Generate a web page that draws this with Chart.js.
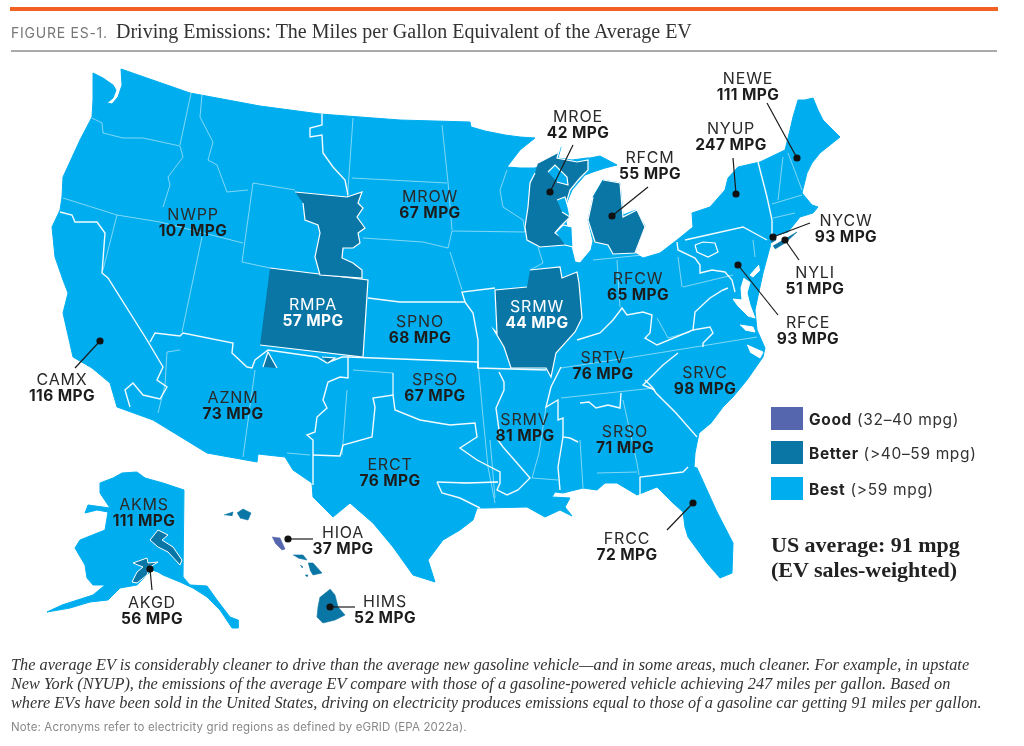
<!DOCTYPE html>
<html>
<head>
<meta charset="utf-8">
<title>Driving Emissions</title>
<script src="https://cdn.jsdelivr.net/npm/chart.js@4"></script>
<style>
    body { margin: 0; background: #fff; width: 1024px; height: 746px; overflow: hidden; position: relative; }
    canvas { position: absolute; left: 0; top: 0; }
    .abs { position: absolute; white-space: nowrap; }
    #topRule { left: 10px; top: 7px; width: 988px; height: 4px; background: #f26122; }
    #subRule { left: 11px; top: 50px; width: 986px; height: 2px; background: #a9a9a9; }
    #figNo { left: 11px; top: 24px; font: 14px Inter; color: #777; letter-spacing: 0.75px; }
    #title { left: 116px; top: 20px; font: 20px "Liberation Serif"; color: #333; letter-spacing: 0; }
    .swatch { left: 771px; width: 32px; height: 23px; }
    .legendText { left: 809px; font: 15.5px Inter; color: #333; letter-spacing: 0.65px; }
    .legendText b { color: #222; }
    .average { left: 771px; font: bold 22px "Liberation Serif"; color: #222; }
    .caption { left: 11px; font: italic 16.3px "Liberation Serif"; color: #333; }
    #note { left: 11px; top: 720px; font: 11.5px Inter; color: #888; letter-spacing: 0.15px; }
</style>
</head>
<body>
<canvas id="mapChart" width="1024" height="746"></canvas>
<div class="abs" id="topRule"></div>
<div class="abs" id="subRule"></div>
<div class="abs" id="figNo">FIGURE ES-1.</div>
<div class="abs" id="title">Driving Emissions: The Miles per Gallon Equivalent of the Average EV</div>
<div class="abs swatch" style="top:407px;background:#5566ae"></div>
<div class="abs legendText" style="top:410px"><b>Good</b> (32–40 mpg)</div>
<div class="abs swatch" style="top:441px;background:#0a76a6"></div>
<div class="abs legendText" style="top:444px"><b>Better</b> (&gt;40–59 mpg)</div>
<div class="abs swatch" style="top:477px;background:#00aeef"></div>
<div class="abs legendText" style="top:480px"><b>Best</b> (&gt;59 mpg)</div>
<div class="abs average" style="top:532px">US average: 91 mpg</div>
<div class="abs average" style="top:557px">(EV sales-weighted)</div>
<div class="abs caption" style="top:655px">The average EV is considerably cleaner to drive than the average new gasoline vehicle—and in some areas, much cleaner. For example, in upstate</div>
<div class="abs caption" style="top:674px">New York (NYUP), the emissions of the average EV compare with those of a gasoline-powered vehicle achieving 247 miles per gallon. Based on</div>
<div class="abs caption" style="top:693px">where EVs have been sold in the United States, driving on electricity produces emissions equal to those of a gasoline car getting 91 miles per gallon.</div>
<div class="abs" id="note">Note: Acronyms refer to electricity grid regions as defined by eGRID (EPA 2022a).</div>

<script>
// Region labels
const regionNames = ["NEWE", "NYUP", "MROE", "RFCM", "MROW", "NWPP", "RMPA", "SPNO", "NYCW", "NYLI", "RFCW", "SRMW", "RFCE", "SRTV", "SRVC", "CAMX", "AZNM", "SPSO", "SRMV", "SRSO", "ERCT", "AKMS", "HIOA", "FRCC", "AKGD", "HIMS"];
const regionMpg = [111, 247, 42, 55, 67, 107, 57, 68, 93, 51, 65, 44, 93, 76, 98, 116, 73, 67, 81, 71, 76, 111, 37, 72, 56, 52];
const labelX = [748, 731, 578, 650, 430, 193, 313, 420, 846, 815, 638, 537, 808, 603, 705, 62, 233, 435, 525, 625, 390, 144, 343, 627, 152, 385];
const labelY = [79, 129, 117, 158, 197, 215, 305, 322, 221, 273, 279, 307, 323, 358, 373, 380, 398, 380, 420, 432, 465, 505, 533, 539, 603, 602];
const whiteLabels = ["RMPA", "SRMW"];

// Outlines, in map units
const usOutline = [[93,73],[103,78],[113,85],[116,90],[113,98],[107,103],[112,104],[118,97],[122,85],[121,69],[190,93],[260,106],[320,114],[400,120],[470,122],[471,127],[485,131],[505,135],[520,137],[535,138],[520,150],[507,167],[520,168],[535,168],[545,163],[557,155],[561,147],[558,158],[572,160],[587,158],[590,158],[600,156],[617,165],[605,168],[593,172],[585,175],[572,190],[565,207],[570,215],[566,222],[570,240],[572,250],[575,262],[580,263],[591,250],[593,241],[588,220],[593,197],[603,180],[620,183],[623,215],[636,210],[645,226],[635,253],[643,258],[660,253],[677,240],[693,227],[692,213],[710,207],[725,190],[728,178],[738,167],[760,162],[785,150],[790,130],[793,117],[798,100],[805,100],[813,98],[818,110],[823,120],[840,137],[830,145],[820,153],[812,163],[807,173],[802,193],[812,205],[818,207],[813,213],[800,217],[788,232],[770,237],[770,247],[763,273],[755,310],[757,330],[765,348],[763,357],[747,380],[733,397],[723,407],[711,423],[699,433],[695,453],[694,467],[697,468],[717,512],[733,543],[732,573],[720,578],[707,563],[688,537],[685,527],[683,512],[673,503],[657,487],[637,495],[617,483],[605,483],[597,490],[583,488],[563,493],[555,492],[552,497],[570,498],[565,507],[572,516],[560,510],[545,517],[527,507],[485,508],[477,508],[473,520],[460,530],[443,540],[428,560],[435,582],[413,575],[393,547],[373,523],[350,503],[333,517],[313,497],[312,483],[293,470],[285,457],[258,454],[257,462],[207,453],[153,420],[117,407],[110,383],[92,368],[73,357],[63,313],[68,293],[63,280],[55,257],[52,227],[60,210],[62,197],[63,177],[80,140],[92,117],[93,100],[93,73]];
const alaskaOutline = [[100,483],[113,478],[122,473],[137,472],[145,478],[163,483],[178,488],[184,490],[183,577],[190,585],[207,586],[217,600],[230,617],[238,620],[238,628],[232,628],[220,610],[207,597],[193,588],[180,582],[163,575],[158,572],[152,570],[137,585],[120,588],[108,600],[90,602],[70,608],[47,612],[62,605],[93,595],[105,585],[93,585],[87,578],[85,565],[75,548],[80,540],[105,530],[108,512],[97,510],[85,513],[88,505],[110,508],[100,493],[100,483]];
const chesapeakeBay = [[744,278],[741,288],[742,300],[733,299],[738,306],[748,316],[755,318],[750,305],[747,293],[750,282]];
const delawareBay = [[759,265],[750,275],[753,277],[760,270]];
const pamlicoSound = [[740,325],[753,327],[755,332],[745,330]];
const albemarleSound = [[747,345],[763,352],[760,358],[750,352]];

// Better (>40-59 mpg) regions
const mroeShape = [[538,163],[557,153],[560,148],[557,158],[577,162],[588,160],[588,170],[580,178],[570,190],[565,207],[570,217],[560,227],[555,233],[565,240],[565,245],[540,247],[527,240],[525,227],[528,207],[530,183],[535,173]];
const rfcmShape = [[603,180],[620,183],[623,217],[637,210],[645,227],[635,253],[613,254],[608,245],[595,242],[588,220],[593,197]];
const srmwShape = [[530,270],[560,267],[562,278],[577,272],[579,283],[582,318],[575,332],[556,353],[551,377],[546,368],[511,368],[504,347],[494,330],[497,333],[495,290],[527,287]];
const rmpaColorado = [[270,268],[368,280],[363,357],[260,345]];
const rmpaNorth = [[295,192],[347,197],[362,192],[358,203],[363,208],[357,217],[365,228],[358,233],[360,243],[353,248],[343,248],[342,258],[353,263],[362,270],[362,278],[320,275],[315,257],[320,233],[318,225],[305,220],[303,203]];
const rmpaSouth = [[322,357],[335,358],[328,363]];
const rmpaFourCorners = [[263,367],[268,352],[277,368]];
const nycwShape = [[770,238],[775,234],[776,240],[771,243]];
const nyliShape = [[773,246],[797,232],[785,243],[775,249]];
const akmsShape = [[150,540],[158,530],[168,535],[162,540],[173,547],[182,560],[180,565],[168,552],[158,547],[150,540]];
const akgdShape = [[133,563],[147,558],[148,563],[158,562],[150,567],[147,575],[137,583],[132,582],[137,572],[143,567],[133,563]];
const hawaiiKauai = [[224,515],[233,512],[232,516]];
const hawaiiOahuWest = [[237,513],[243,509],[251,513],[248,520],[240,518]];
const hawaiiMolokai = [[293,555],[303,555],[307,560],[298,558]];
const hawaiiLanai = [[300,565],[303,567],[302,568]];
const hawaiiMaui = [[308,563],[313,563],[322,573],[313,575],[310,570]];
const hawaiiKahoolawe = [[305,575],[308,575],[307,577]];
const himsShape = [[330,589],[335,595],[338,607],[345,615],[335,620],[323,623],[317,617],[318,607],[320,597]];

// Good (32-40 mpg) region
const hioaShape = [[272,537],[280,538],[285,549],[282,550],[275,543]];

// Blue cut-outs inside MROE
const mroeHoleNorth = [[548,172],[555,165],[567,177],[568,185],[557,182]];
const mroeHoleBay = [[557,200],[565,197],[568,207],[570,217],[562,212]];
const mroeHoleSouth = [[556,232],[563,225],[572,227],[573,247],[565,245]];
const rfceHole = [[695,245],[703,242],[715,243],[718,252],[708,257],[697,252],[695,245]];

// Grid region borders, drawn thick
const gridBorders = [
    [[60,212],[72,215],[75,222],[97,222],[105,233],[102,273],[108,278],[147,340],[163,367],[157,380],[167,387],[160,399],[143,395],[133,383],[125,390],[130,407]],
    [[150,342],[155,333],[180,336],[183,333],[233,343],[232,353],[247,367],[252,368],[255,360],[268,350],[317,357],[327,363],[342,357],[348,357],[348,378],[340,377],[328,382],[323,400],[327,408],[317,417],[315,432],[307,435],[313,440],[313,485]],
    [[313,455],[340,456],[343,445],[372,437],[375,407],[373,398],[393,395],[395,410],[420,420],[450,425],[475,423],[477,437],[460,448],[477,460],[500,472],[500,483],[497,490],[507,495],[518,490],[530,478],[517,463],[503,447],[498,440],[499,430],[496,408],[504,390],[504,382],[499,372]],
    [[437,482],[442,493],[460,498],[480,508]],
    [[437,482],[467,483],[498,482]],
    [[322,114],[322,125],[310,128],[310,137],[322,135],[323,153],[333,167],[345,180],[348,195]],
    [[368,298],[400,302],[465,302],[462,292],[495,288]],
    [[348,357],[478,362],[478,368],[546,370]],
    [[465,302],[473,313],[478,340],[478,368]],
    [[561,367],[551,387],[546,407],[558,400],[558,420],[563,418],[563,437],[570,438],[578,442]],
    [[563,437],[558,467],[560,490]],
    [[580,403],[589,402],[596,408],[608,405],[620,408],[621,393]],
    [[645,380],[652,387],[656,393],[676,413],[697,437]],
    [[678,353],[663,365],[643,385],[655,390]],
    [[640,495],[640,477],[683,472],[688,467]],
    [[685,240],[743,227],[767,240]],
    [[677,242],[678,250],[695,258],[700,265],[700,273],[712,270],[725,272],[732,280],[735,292]],
    [[577,340],[600,333],[613,320],[622,308],[627,315],[643,312],[652,315],[650,333],[645,338],[657,345],[693,330],[695,312],[710,298],[723,290],[728,288]],
    [[693,330],[710,327],[713,333],[703,343],[703,347]],
    [[758,162],[767,197],[772,220],[772,235]]
];

// State lines, drawn thin
const stateLines = [
    [[191,93],[180,145]],
    [[92,118],[102,123],[103,133],[123,138],[143,138],[180,146],[183,157],[168,177],[170,185],[163,207]],
    [[63,198],[117,215],[160,222],[243,243]],
    [[117,215],[103,270]],
    [[202,237],[182,332]],
    [[253,183],[295,190]],
    [[253,183],[242,262],[270,268]],
    [[202,95],[200,117],[213,142],[208,160],[217,165],[227,192],[248,190]],
    [[353,118],[348,190],[343,248],[340,275]],
    [[352,178],[447,183]],
    [[442,125],[448,182],[452,230]],
    [[363,238],[423,242],[448,248],[452,231],[525,232]],
    [[450,252],[462,290]],
    [[507,170],[500,190],[503,207],[523,220],[525,232]],
    [[538,247],[543,263],[530,270]],
    [[593,260],[643,255]],
    [[617,260],[620,307]],
    [[678,257],[682,287]],
    [[683,287],[733,275]],
    [[783,157],[778,200]],
    [[788,153],[802,190]],
    [[772,204],[802,195]],
    [[773,218],[795,213]],
    [[753,240],[755,257]],
    [[561,368],[627,358],[757,337]],
    [[657,318],[668,338],[690,332]],
    [[561,398],[654,388]],
    [[623,400],[637,463],[639,475]],
    [[597,473],[637,472]],
    [[580,440],[583,488]],
    [[546,407],[539,453],[532,478],[558,480]],
    [[490,440],[492,462],[495,498]],
    [[460,483],[498,482]],
    [[255,370],[243,457]],
    [[287,453],[310,455]],
    [[353,370],[393,373],[393,395]],
    [[347,390],[342,455]],
    [[478,362],[483,417],[488,467],[495,503]],
    [[167,352],[180,350]],
    [[167,352],[165,385],[158,413]]
];

// Leader lines, dot end first
const leaderLines = [
    [[100,341],[75,368]],
    [[550,192],[573,145]],
    [[612,216],[648,187]],
    [[797,158],[767,103]],
    [[736,194],[733,158]],
    [[773,237],[810,223]],
    [[785,240],[799,260]],
    [[738,265],[778,315]],
    [[693,503],[667,530]],
    [[150,569],[152,590]],
    [[288,539],[313,539]],
    [[330,607],[355,607]]
];

const BLUE = "#00aeef";
const DARK = "#0a76a6";
const PURPLE = "#5566ae";
const WHITE = "#ffffff";

function toPoints(line) {
    return line.map(p => ({ x: p[0], y: p[1] }));
}

function shape(label, line, color, border, width) {
    return {
        label: label,
        data: toPoints(line),
        showLine: true,
        fill: "shape",
        tension: 0,
        pointRadius: 0,
        backgroundColor: color,
        borderColor: border || color,
        borderWidth: width === undefined ? 1 : width
    };
}

function path(label, line, color, width) {
    return {
        label: label,
        data: toPoints(line),
        showLine: true,
        fill: false,
        tension: 0,
        pointRadius: 0,
        borderColor: color,
        borderWidth: width
    };
}

const datasets = [
    shape("US", usOutline, BLUE),
    shape("Alaska", alaskaOutline, BLUE),
    shape("Chesapeake", chesapeakeBay, WHITE),
    shape("Delaware Bay", delawareBay, WHITE),
    shape("Pamlico", pamlicoSound, WHITE),
    shape("Albemarle", albemarleSound, WHITE)
];
stateLines.forEach((l, i) => datasets.push(path("state " + i, l, "rgba(255,255,255,0.5)", 1)));
gridBorders.forEach((l, i) => datasets.push(path("border " + i, l, "rgba(255,255,255,0.95)", 1.4)));
[
    ["MROE", mroeShape], ["RFCM", rfcmShape], ["SRMW", srmwShape], ["RMPA", rmpaColorado],
    ["RMPA north", rmpaNorth], ["RMPA south", rmpaSouth], ["RMPA corners", rmpaFourCorners]
].forEach(r => datasets.push(shape(r[0], r[1], DARK, WHITE, 1.2)));
[
    ["NYCW", nycwShape], ["NYLI", nyliShape],
    ["Kauai", hawaiiKauai], ["Oahu west", hawaiiOahuWest], ["Molokai", hawaiiMolokai], ["Lanai", hawaiiLanai],
    ["Maui", hawaiiMaui], ["Kahoolawe", hawaiiKahoolawe], ["HIMS", himsShape]
].forEach(r => datasets.push(shape(r[0], r[1], DARK, DARK, 0.6)));
datasets.push(shape("AKMS dark", akmsShape, DARK, WHITE, 1));
datasets.push(shape("AKGD", akgdShape, DARK, WHITE, 1));
datasets.push(shape("HIOA", hioaShape, PURPLE, PURPLE, 0.6));
[mroeHoleNorth, mroeHoleBay, mroeHoleSouth].forEach((l, i) => datasets.push(shape("hole " + i, l, BLUE, WHITE, 1.2)));
datasets.push(path("RFCE hole", rfceHole, WHITE, 1.2));
leaderLines.forEach((l, i) => {
    const d = path("leader " + i, l, "#1a1a1a", 1.2);
    d.pointRadius = [3, 0];
    d.pointBackgroundColor = "#111";
    d.pointBorderColor = "#111";
    datasets.push(d);
});
// later entries go on top
datasets.forEach((d, i) => { d.order = datasets.length - i; });

// Writes the region name and MPG value under each other
const regionLabels = {
    id: "regionLabels",
    afterDatasetsDraw(chart) {
        const ctx = chart.ctx;
        const xs = chart.scales.x;
        const ys = chart.scales.y;
        ctx.save();
        ctx.textAlign = "center";
        ctx.textBaseline = "middle";
        regionNames.forEach((name, i) => {
            const x = xs.getPixelForValue(labelX[i]);
            const y = ys.getPixelForValue(labelY[i]);
            ctx.fillStyle = whiteLabels.includes(name) ? "#fff" : "#2a2a2a";
            ctx.font = "16px Inter";
            ctx.letterSpacing = "0.8px";
            ctx.fillText(name, x, y);
            ctx.fillStyle = whiteLabels.includes(name) ? "#fff" : "#1c1c1c";
            ctx.font = "bold 15.5px Inter";
            ctx.letterSpacing = "0.4px";
            ctx.fillText(regionMpg[i] + " MPG", x, y + 16);
        });
        ctx.restore();
    }
};

new Chart(document.getElementById("mapChart").getContext("2d"), {
    type: "scatter",
    data: { datasets: datasets },
    options: {
        responsive: false,
        animation: false,
        // no automatic padding, the map has to fill the whole canvas
        layout: { padding: 0, autoPadding: false },
        plugins: { legend: { display: false }, tooltip: { enabled: false } },
        scales: {
            x: { type: "linear", min: 0, max: 1024, display: false },
            y: { type: "linear", min: 0, max: 746, reverse: true, display: false }
        }
    },
    plugins: [regionLabels]
});
</script>
</body>
</html>
